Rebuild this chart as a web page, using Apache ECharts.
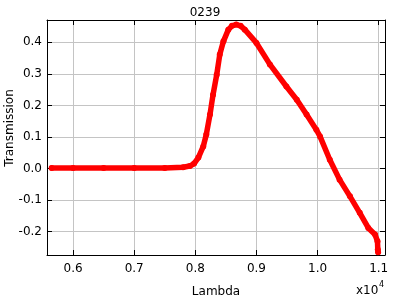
<!DOCTYPE html>
<html>
<head>
<meta charset="utf-8">
<script src="https://cdn.jsdelivr.net/npm/echarts@6/dist/echarts.min.js"></script>
<style>html,body{margin:0;padding:0;background:#fff}#c{width:400px;height:300px}</style>
</head>
<body>
<div id="c"></div>
<script>
var titleText = "0239";
var xName = "Lambda";
var yName = "Transmission";
var lambda = [5650, 6000, 6500, 7000, 7500, 7800, 7910, 7980, 8050, 8130, 8180, 8240, 8290, 8350, 8400, 8460, 8540, 8600, 8670, 8740, 8810, 9000, 9220, 9490, 9660, 9820, 9980, 10040, 10200, 10360, 10530, 10690, 10830, 10940, 10980, 10985, 10990];
var transmission = [0.002, 0.002, 0.002, 0.002, 0.002, 0.004, 0.008, 0.016, 0.035, 0.070, 0.108, 0.171, 0.234, 0.297, 0.361, 0.403, 0.440, 0.452, 0.456, 0.452, 0.440, 0.398, 0.330, 0.260, 0.218, 0.171, 0.123, 0.102, 0.028, -0.035, -0.088, -0.140, -0.188, -0.209, -0.230, -0.256, -0.265];

var xMin = 5574, xMax = 11103, yMin = -0.2737, yMax = 0.4706;
var font = "DejaVu Sans";
var chart = echarts.init(document.getElementById('c'), null, {renderer: 'canvas'});
var pts = lambda.map(function (v, i) { return [v, transmission[i]]; });
var axisCommon = {
  axisLine: {show: true, onZero: false, lineStyle: {color: '#000', width: 1}},
  axisTick: {show: true, inside: true, length: 5, lineStyle: {color: '#000'}},
  splitLine: {show: false}
};
chart.setOption({
  animation: false,
  backgroundColor: '#fff',
  title: {text: titleText, left: 200, top: 2, textAlign: 'center', textStyle: {fontFamily: font, fontSize: 12, fontWeight: 'normal', color: '#000'}},
  grid: {left: 47, right: 15, top: 20, bottom: 45, containLabel: false, outerBoundsMode: 'none'},
  xAxis: [
    Object.assign({}, axisCommon, {
      type: 'value', min: xMin, max: xMax, splitNumber: 5, position: 'bottom',
      name: xName, nameLocation: 'middle', nameGap: 31,
      nameTextStyle: {fontFamily: font, fontSize: 12, color: '#000'},
      axisLabel: {show: true, fontFamily: font, fontSize: 12, color: '#000', margin: 8, showMinLabel: false, showMaxLabel: false,
        formatter: function (v) { return (v / 10000).toFixed(1); }},
      splitLine: {show: true, lineStyle: {color: '#c4c4c4', width: 1}}
    }),
    Object.assign({}, axisCommon, {
      type: 'value', min: xMin, max: xMax, splitNumber: 5, position: 'top',
      axisLabel: {show: false}
    })
  ],
  yAxis: [
    Object.assign({}, axisCommon, {
      type: 'value', min: yMin, max: yMax, splitNumber: 6, position: 'left',
      axisLabel: {show: true, fontFamily: font, fontSize: 12, color: '#000', margin: 5, showMinLabel: false, showMaxLabel: false,
        formatter: function (v) { return v.toFixed(1); }},
      splitLine: {show: true, lineStyle: {color: '#c4c4c4', width: 1}}
    }),
    Object.assign({}, axisCommon, {
      type: 'value', min: yMin, max: yMax, splitNumber: 6, position: 'right',
      axisLabel: {show: false}
    })
  ],
  graphic: [
    {type: 'text', x: 10, y: 128, rotation: Math.PI / 2,
      style: {text: yName, font: '12px "DejaVu Sans"', fill: '#000', align: 'center', verticalAlign: 'middle'}},
    {type: 'text', left: 356, top: 285, style: {text: 'x10', font: '12px "DejaVu Sans"', fill: '#000'}},
    {type: 'text', left: 379, top: 281, style: {text: '4', font: '8px "DejaVu Sans"', fill: '#000'}}
  ],
  series: [{
    type: 'line', data: pts, xAxisIndex: 0, yAxisIndex: 0,
    symbol: 'circle', symbolSize: 6, showSymbol: true,
    itemStyle: {color: '#f00'},
    lineStyle: {color: '#f00', width: 5.5, cap: 'round', join: 'round'},
    silent: true
  }]
});
</script>
</body>
</html>
